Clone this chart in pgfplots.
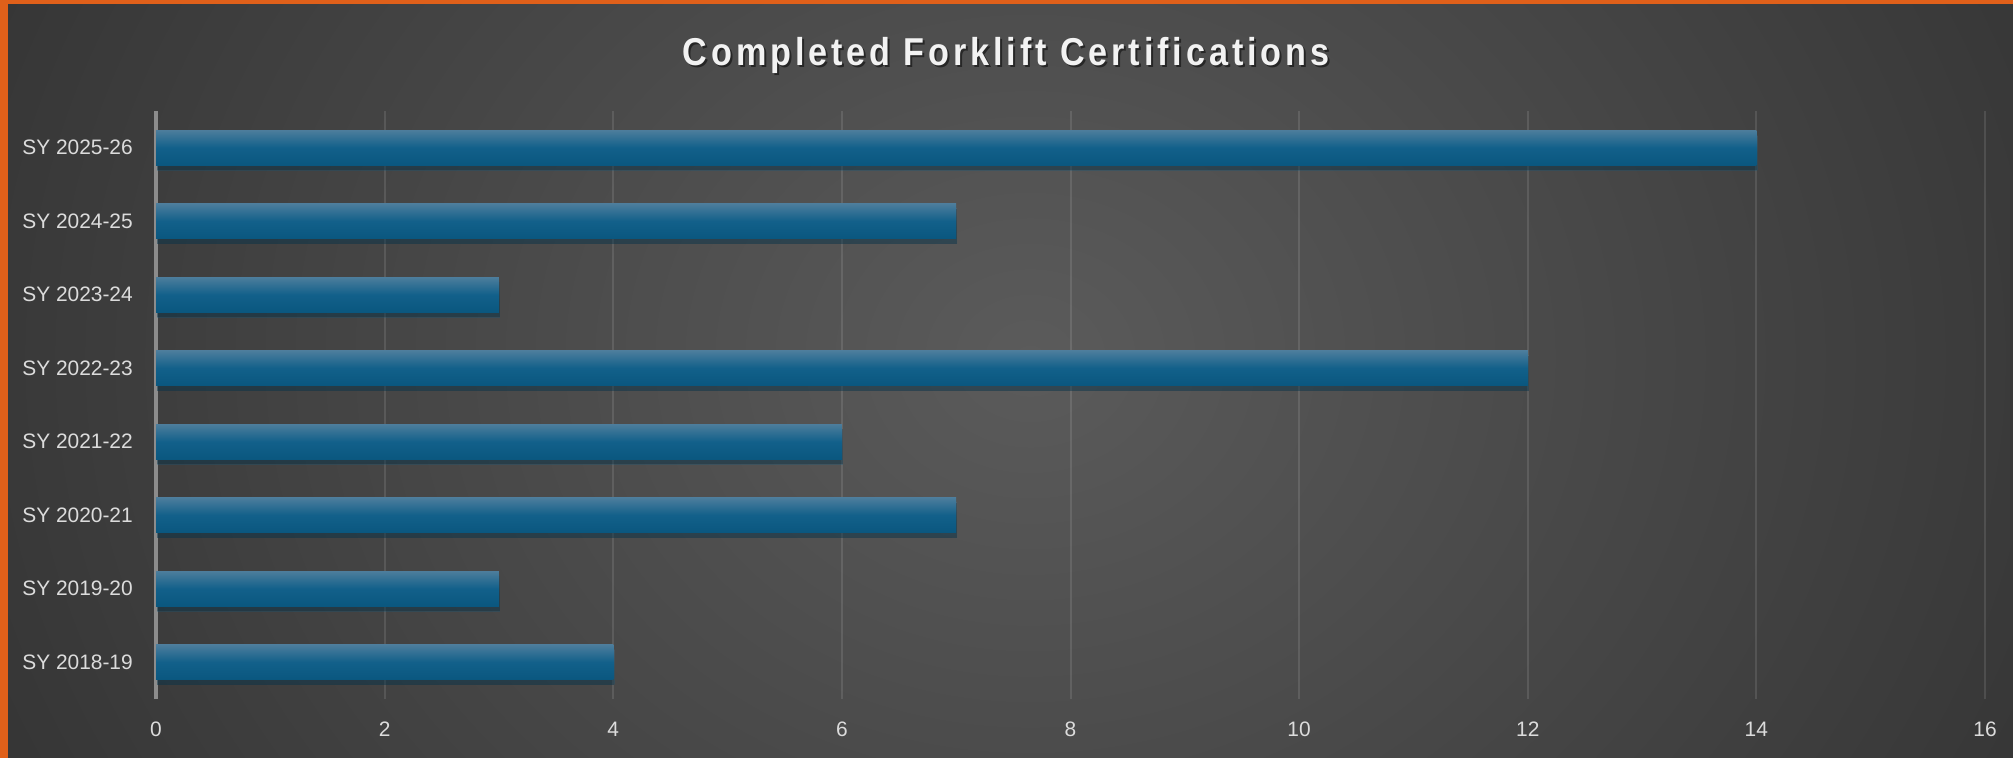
\documentclass[border=0pt]{standalone}
\usepackage{fontspec}
\setmainfont{Liberation Sans}
\newfontfamily\titlefont{Liberation Sans}[FakeStretch=0.88,LetterSpace=10]
\usepackage{pgfplots}
\pgfplotsset{compat=1.18}
\usetikzlibrary{shadows}
\definecolor{orangeB}{HTML}{E0601A}
\definecolor{bgIn}{HTML}{5B5B5B}
\definecolor{bgOut}{HTML}{242424}
\definecolor{barTop}{HTML}{4C7D9C}
\definecolor{barMid}{HTML}{12608A}
\definecolor{barBot}{HTML}{0A577F}
\definecolor{lbl}{HTML}{DCDCDC}
\definecolor{zeroLine}{HTML}{8C8C8C}
\pgfplotsset{barsty/.style={draw=none, bar shift=0pt, top color=barTop, bottom color=barBot, middle color=barMid,
  drop shadow={shadow xshift=1bp, shadow yshift=-5bp, opacity=0.28, fill=black}}}
\begin{document}
\begin{tikzpicture}
\useasboundingbox (0,0) rectangle (2013bp,758bp);
\fill[orangeB] (0,0) rectangle (2013bp,758bp);
\begin{scope}
\clip (8bp,0) rectangle (2013bp,753bp);
\fill[bgOut] (8bp,0) rectangle (2013bp,753bp);
\shade[inner color=bgIn, outer color=bgOut] (1030bp,400bp) ellipse [x radius=1650bp, y radius=1400bp];
\end{scope}
\node[text=black, opacity=0.5] at (1008bp,701bp) {\titlefont\bfseries\fontsize{39}{45}\selectfont Completed Forklift Certifications};
\node[text=white!95!black] at (1006bp,703bp) {\titlefont\bfseries\fontsize{39}{45}\selectfont Completed Forklift Certifications};
\begin{axis}[
  at={(156bp,59bp)}, anchor=south west,
  scale only axis, width=1829bp, height=588bp,
  xbar, xmin=0, xmax=16, ymin=-0.5, ymax=7.5,
  bar width=0.475,
  ytick={0,...,7},
  yticklabels={SY 2018-19,SY 2019-20,SY 2020-21,SY 2021-22,SY 2022-23,SY 2023-24,SY 2024-25,SY 2025-26},
  xtick={0,2,...,16},
  extra x ticks={0}, extra x tick labels={},
  extra x tick style={major grid style={draw=zeroLine, opacity=1, line width=3bp}},
  xmajorgrids, ymajorgrids=false,
  major grid style={draw=white, opacity=0.11, line width=2bp},
  axis line style={draw=none},
  major tick length=0pt,
  tick label style={font=\fontsize{21}{25}\selectfont, text=lbl},
  xticklabel style={inner sep=0pt, anchor=north, yshift=-23bp},
  yticklabel style={inner sep=0pt, anchor=east, xshift=-23bp},
  /pgf/number format/assume math mode=true,
]
\addplot[barsty] coordinates {(4,0)};
\addplot[barsty] coordinates {(3,1)};
\addplot[barsty] coordinates {(7,2)};
\addplot[barsty] coordinates {(6,3)};
\addplot[barsty] coordinates {(12,4)};
\addplot[barsty] coordinates {(3,5)};
\addplot[barsty] coordinates {(7,6)};
\addplot[barsty] coordinates {(14,7)};
\end{axis}
\end{tikzpicture}
\end{document}
